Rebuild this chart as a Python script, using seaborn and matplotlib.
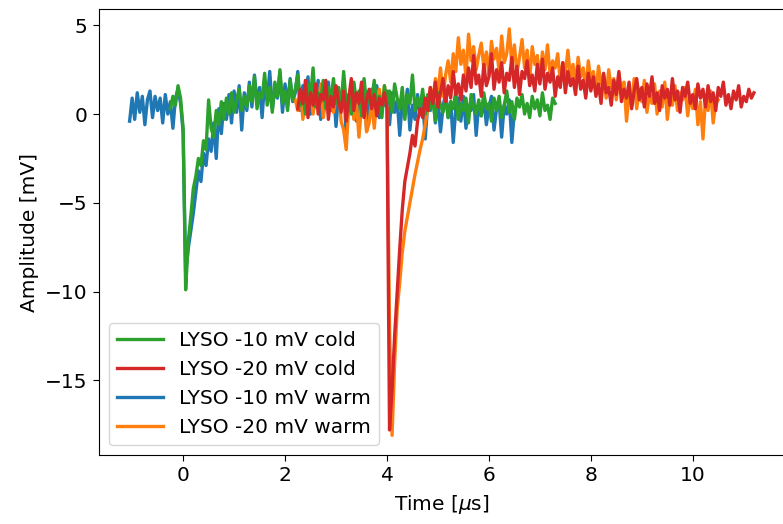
import numpy as np
import pandas as pd
import matplotlib
matplotlib.use("Agg")
import matplotlib.pyplot as plt
import seaborn as sns

# sampling step of the scope traces (us)
dt = 0.05

# LYSO -10 mV warm (blue)
t0_warm10 = -1.05
amp_warm10 = [-0.4, 0.9, -0.3, 1.2, 0.1, 1.0, -0.6, 0.8, 1.3, -0.2, 1.0, 0.2, 0.9, -0.5, 1.1, 0.0, 0.7, -0.8, 0.9, 1.4, 0.6,
              -1.0, -9.0, -7.6, -6.6, -5.6, -4.4, -3.2, -3.8, -2.2, -2.9, -1.4, -2.1, -0.5, -2.5, 0.3, -1.1, 0.6, -0.3, 1.1, -0.5, 1.3, 0.1, 1.6, -0.9, 1.2,
              0.2, 1.8, 0.4, 2.2, 0.6, 1.5, -0.2, 1.9, 0.8, 2.4, 0.3, 1.4, 0.9, 2.3, 0.1, 1.7, 0.5, 2.0, 0.7, 1.2, 2.4, 0.2, 1.6, 0.8, 2.1, 0.0, 1.3, 0.6, 1.9, -0.3, 1.4, 0.9,
              1.8, 0.2, 1.5, -0.7, 1.1, 0.4, 2.0, -1.3, 0.9, 0.3, 1.7, -0.4, 1.2, 0.6, 1.9, -0.9, 0.8, 1.4, 0.1, 1.6, -0.2, 1.0, 0.5, 1.3,
              -0.6, 1.2, 0.1, 0.8, -1.2, 0.7, 0.3, 1.4, -0.9, 0.5, -0.3, 1.1, 0.0, 0.9, -1.4, 0.6, 0.2, 1.3, -0.5, 0.8, -1.0, 0.4, 1.2, -0.2, 0.7,
              -1.6, 0.3, 0.9, -0.4, 1.0, -0.8, 0.5, 0.2, 1.1, -1.2, 0.6, -0.1, 0.9, -0.6, 0.4, 1.0, -0.9, 0.3, 0.7, -1.3, 0.5, 0.0, 0.8, -1.6, 0.2]

# LYSO -10 mV cold (green)
t0_cold10 = -0.25
amp_cold10 = [0.3, 1.0, 0.5, 1.6, 0.9,
              -0.8, -9.9, -7.2, -5.8, -4.2, -3.5, -2.5, -2.9, -1.5, -2.0, 0.8, -0.8, -1.3, 0.2, -0.6, 0.7, -0.3, 0.9, 0.0, 1.2, 0.1, 0.8, 1.4, 0.2, 1.0,
              0.4, 1.6, 0.7, 2.1, 0.3, 1.2, 0.9, 2.3, 0.5, 1.5, 0.1, 1.8, 1.0, 2.5, 0.6, 1.3, 0.2, 1.9, 0.8, 1.4, 2.2, 0.5, 1.1, 0.0, 1.7, 0.9, 2.6, 0.4, 1.2, 0.7, 1.9, 0.3, 1.5, 0.8, 2.0, 0.6,
              1.5, 0.2, 2.4, 0.6, 1.1, 0.0, 1.8, 0.7, 1.3, -0.1, 2.0, 0.5, 1.2, 0.8, 1.9, 0.3, 1.0, -0.2, 1.6, 0.6, 1.3, 0.1, 1.7, 0.9, 0.3, 1.5, -0.3, 1.1, 0.6, 2.2, 0.2, 0.9, 0.4, 1.4,
              0.0, 1.1, 0.3, 0.8, -0.4, 1.2, 0.5, 0.1, 1.0, -0.2, 0.7, 0.3, 1.3, -0.3, 0.6, 0.2, 0.9, -0.5, 1.1, 0.4, 0.0, 0.8, -0.1, 1.2, 0.3, 0.6,
              -0.4, 0.9, 0.2, 1.0, -0.2, 0.5, 1.3, 0.1, 0.7, -0.3, 0.9, 0.4, 1.1, 0.0, 0.6, -0.2, 1.0, 0.3, 0.8, -0.1, 1.2, 0.2, 0.5, -0.3, 0.9, 0.6]

# LYSO -20 mV cold (red)
t0_cold20 = 2.25
amp_cold20 = [0.3, 1.4, 0.6, 1.9, -0.2, 1.2, 0.5, 1.7, 0.0, 1.1, 0.8, 1.9, -0.3, 1.0, 0.4, 1.6, 0.7, 0.1, 1.3, -0.4, 0.9, 2.0, 0.2, 1.2, 0.6, 1.8, -0.2, 0.8, 1.4, 0.3, 1.1, -0.1, 0.9, 0.5, 1.2,
              0.3, -17.8, -15.5, -12.5, -10.0, -7.6, -5.4, -3.8, -3.0, -2.2, -1.2, -1.8, -0.4, 0.3, -0.2,
              0.9, 0.2, 1.5, 0.6, 1.8, 0.4, 1.2, 2.0, 0.7, 1.6, 0.9, 2.4, 1.1, 1.7, 0.8, 2.2,
              1.3, 2.6, 1.5, 3.3, 1.7, 2.2, 1.0, 2.8, 1.6, 2.1, 3.4, 1.4, 2.5, 1.8, 2.9, 1.2, 2.3, 1.9, 3.2, 1.5, 2.7, 1.1, 2.4, 2.0, 3.0,
              1.6, 2.2, 1.3, 2.8, 1.7, 3.1, 1.4, 2.3, 1.8, 2.6, 1.0, 2.1, 1.5, 2.9, 1.2, 2.4, 1.6, 2.0, 1.1, 2.7, 1.4, 1.9, 0.9, 2.3, 1.3,
              2.1, 1.0, 1.7, 0.6, 2.3, 1.2, 1.5, 0.5, 1.9, 1.1, 2.4, 0.7, 1.4, 0.9, 1.8, 0.3, 1.3, 2.0, 0.8, 1.5, 0.4, 1.7, 1.0, 2.1, 0.6, 1.2,
              0.2, 1.6, 0.9, 1.4, 0.5, 2.0, 0.8, 1.3, 0.1, 1.5, 1.0, 1.8, 0.6, 1.1, 0.3, 1.7, 0.9, 1.4, 0.4, 1.6, 0.7, 1.2, 0.2, 1.5, 1.0, 1.8,
              0.5, 1.1, 0.3, 1.3, 0.8, 1.6, 0.4, 1.0, 0.7, 1.4, 0.9, 1.2]

# LYSO -20 mV warm (orange)
t0_warm20 = 2.2
amp_warm20 = [0.8, 0.2, 1.4, -0.3, 0.9, 0.5, 1.6, 0.0, 1.1, 0.4, 1.7, -0.2, 0.8, 0.6, 1.3, 0.1, 0.9, 1.5, -0.4, -0.9, -2.0, 0.5, 1.2, -0.3, 0.7, -1.3, 0.4, 1.0, -1.0, -0.5, 0.8, -0.8, 0.9, 1.4, 0.2, 1.6,
              0.4, -12.0, -18.1, -14.0, -11.0, -9.5, -7.8, -6.6, -5.8, -5.0, -4.2, -3.4, -2.7, -2.0, -1.4, -0.6,
              0.3, 1.5, 0.8, 2.0, 1.2, 2.6, 1.0, 2.2, 3.0, 1.8, 3.4,
              2.4, 4.3, 2.8, 3.6, 2.1, 4.5, 3.0, 3.8, 2.5, 3.3, 4.0, 2.6, 3.5, 2.2, 4.1, 3.1, 3.7, 2.4, 4.4, 2.9, 3.4, 4.8,
              2.7, 3.9, 2.3, 3.2, 4.2, 2.6, 3.6, 2.0, 3.8, 2.8, 3.3, 1.9, 3.5, 2.5, 3.9, 2.2, 3.0, 2.6, 3.4, 1.8, 2.9, 2.3,
              3.6, 2.0, 2.8, 1.6, 3.2, 2.1, 2.6, 1.4, 3.0, 1.9, 2.4, 1.2, 2.7, 1.7, 2.2, 0.9, 2.5, 1.5, 2.0, 0.8, 2.3, 1.3,
              1.8, -0.4, 1.2, 0.5, 2.0, 0.3, 1.4, 0.7, 1.9, 0.1, 1.1, 0.6, 1.7, 0.0, 1.3, 0.4, 1.8, -0.3, 0.9,
              0.5, 1.6, 0.2, 1.2, 0.8, 1.5, -0.1, 1.0, 0.3, 1.4, -0.6, 0.7, -1.4, 0.9, 0.2, 1.3, -0.5, 0.6, 0.8]

labels = ["LYSO -10 mV cold", "LYSO -20 mV cold", "LYSO -10 mV warm", "LYSO -20 mV warm"]
colors = {"LYSO -10 mV cold": "tab:green", "LYSO -20 mV cold": "tab:red",
          "LYSO -10 mV warm": "tab:blue", "LYSO -20 mV warm": "tab:orange"}

traces = {
    "LYSO -10 mV warm": (t0_warm10, amp_warm10),
    "LYSO -20 mV warm": (t0_warm20, amp_warm20),
    "LYSO -10 mV cold": (t0_cold10, amp_cold10),
    "LYSO -20 mV cold": (t0_cold20, amp_cold20),
}

fig = plt.figure(figsize=(7.83, 5.24), dpi=100)
ax = fig.add_axes([0.1258, 0.1317, 0.8768, 0.8511])

# draw order: warm first, cold on top
for name, (t0, amp) in traces.items():
    t = t0 + dt * np.arange(len(amp))
    d = pd.DataFrame({"t": t, "amp": amp})
    sns.lineplot(data=d, x="t", y="amp", ax=ax, color=colors[name], lw=2.4,
                 label=name, estimator=None)

ax.set_xlim(-1.66, 11.81)
ax.set_ylim(-19.21, 5.92)
ax.set_xlabel(r"Time [$\mu$s]", fontsize=14.5, labelpad=6)
ax.set_ylabel("Amplitude [mV]", fontsize=14.5)
ax.tick_params(labelsize=14.5, length=4.5)

h, l = ax.get_legend_handles_labels()
order = [l.index(x) for x in labels]
leg = ax.legend([h[i] for i in order], labels, loc="lower left", fontsize=14.5,
                handlelength=2.3, borderaxespad=0.5)
for line in leg.get_lines():
    line.set_linewidth(2.4)

fig.savefig("out.png", dpi=100)
